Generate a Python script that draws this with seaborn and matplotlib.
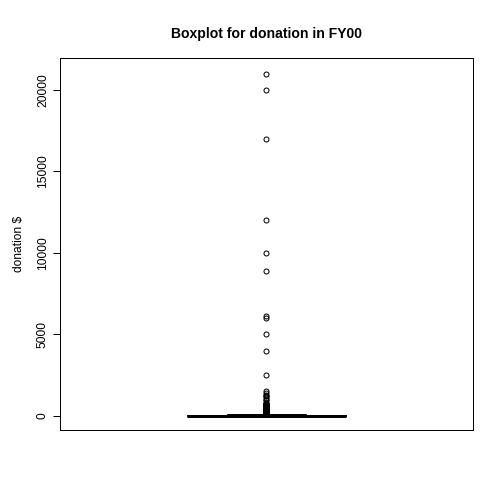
import numpy as np
import pandas as pd
import matplotlib.pyplot as plt
import seaborn as sns

# bulk of small donations (value, how many donors gave it)
bulk_values = [0, 5, 10, 20, 25, 30, 40, 50, 60, 75, 100, 120]
bulk_counts = [300, 40, 60, 100, 60, 60, 50, 80, 40, 40, 60, 20]

# large donations
large_values = [150, 160, 175, 180, 200, 210, 225, 240, 250, 260, 275, 290,
                300, 310, 325, 340, 350, 360, 375, 390, 400, 410, 425, 440,
                450, 460, 475, 490, 500, 510, 525, 540, 550, 560, 575, 590,
                600, 610, 625, 640, 650, 660, 675, 690, 700, 710, 725, 740,
                750, 775, 800,
                950, 1000, 1100, 1200, 1250, 1300, 1400, 1500, 2500, 4000, 5000,
                6000, 6100, 8900, 10000, 12000, 17000, 20000, 21000]

donation = np.concatenate([np.repeat(bulk_values, bulk_counts), large_values])
df = pd.DataFrame({"donation": donation})

sns.set_theme(style="white")
plt.rcParams['font.family'] = ['Liberation Sans', 'DejaVu Sans']
plt.rcParams['text.color'] = 'black'
plt.rcParams['axes.labelcolor'] = 'black'
plt.rcParams['ytick.color'] = 'black'

fig = plt.figure(figsize=(7, 7), dpi=72)
ax = fig.add_axes([0.119, 0.147, 0.8195, 0.738])

sns.boxplot(y="donation", data=df, ax=ax, width=0.4, color="white",
            linecolor="black", linewidth=1,
            medianprops=dict(color="black", linewidth=3),
            whiskerprops=dict(color="black", linewidth=1, linestyle="--"),
            capprops=dict(color="black", linewidth=1),
            flierprops=dict(marker="o", markerfacecolor="none",
                            markeredgecolor="black", markersize=5,
                            markeredgewidth=1))

ax.set_xlim(-0.52, 0.52)
ax.set_ylim(-860, 21960)
ax.set_xticks([])
ax.set_yticks([0, 5000, 10000, 15000, 20000])
ax.tick_params(axis="y", direction="out", length=7, width=1, color="black",
               labelcolor="black", labelsize=12, left=True, pad=4)
for lab in ax.get_yticklabels():
    lab.set_rotation(90)
    lab.set_va("center")
for s in ax.spines.values():
    s.set_color("black")
    s.set_linewidth(1)
    s.set_visible(True)

ax.set_xlabel("")
ax.set_ylabel("donation $", fontsize=12, labelpad=12, color="black")
ax.set_title("Boxplot for donation in FY00", fontsize=14, fontweight="bold",
             pad=20, color="black")

fig.savefig("out.png", dpi=72, facecolor="white")
